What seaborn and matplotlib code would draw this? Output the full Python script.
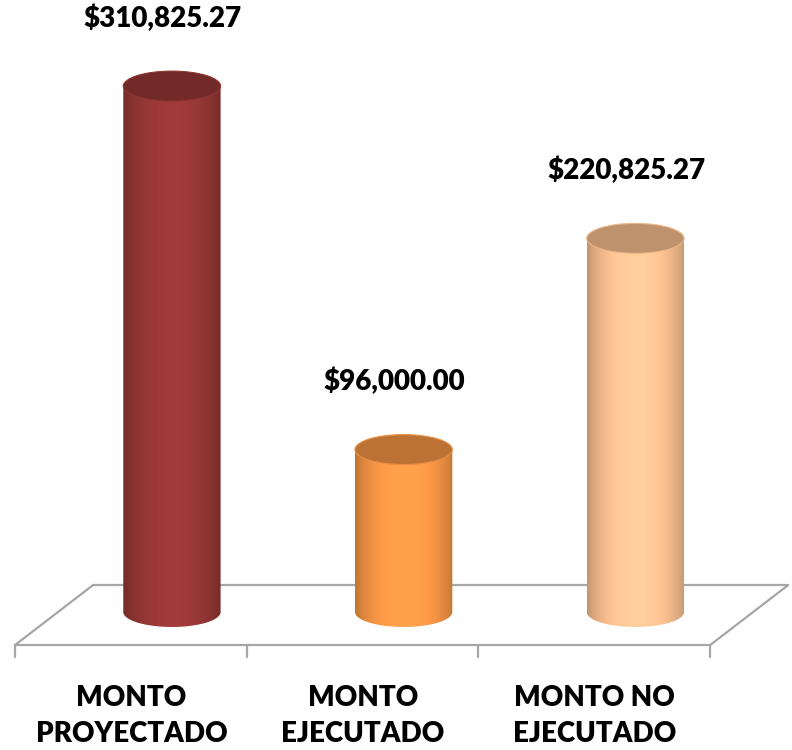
import numpy as np
import matplotlib
matplotlib.use("Agg")
import matplotlib.pyplot as plt
import seaborn as sns
from matplotlib.patches import Ellipse, PathPatch
from matplotlib.path import Path
from matplotlib.colors import to_rgb

# ------------------------------
# data
# ------------------------------
categories = ["MONTO\nPROYECTADO", "MONTO\nEJECUTADO", "MONTO NO\nEJECUTADO"]
values = [310825.27, 96000.00, 220825.27]
bar_colors = ["#953735", "#F79646", "#FAC090"]

# ------------------------------
# layout (pseudo 3D floor)
# ------------------------------
X_LIM = (-0.742, 2.676)
Y_LIM = (-81560, 361700)
DEPTH = 0.177          # bars sit behind the front edge of the floor
FLOOR_FRONT = -19500
FLOOR_BACK = 15960
FLOOR_SHIFT = 0.337
ELL_H = 17700          # height of cylinder caps in data units
GRID = "#A6A6A6"

sns.set_theme(style="white")
plt.rcParams["font.family"] = ["Lato", "DejaVu Sans"]

fig = plt.figure(figsize=(7.92, 7.5), dpi=100)
ax = fig.add_axes([0, 0, 1, 1])

sns.barplot(x=categories, y=values, hue=categories, palette=bar_colors,
            legend=False, width=0.42, saturation=1, ax=ax)

# floor
xl, xr = -0.5 - DEPTH, len(categories) - 0.5 - DEPTH
ax.plot([xl, xl + FLOOR_SHIFT, xr + FLOOR_SHIFT, xr],
        [FLOOR_FRONT, FLOOR_BACK, FLOOR_BACK, FLOOR_FRONT],
        color=GRID, lw=1.6, zorder=1, solid_capstyle="round")
ax.plot([xl, xr], [FLOOR_FRONT, FLOOR_FRONT], color=GRID, lw=1.6, zorder=1)
for k in range(len(categories) + 1):
    xt = k - 0.5 - DEPTH
    ax.plot([xt, xt], [FLOOR_FRONT, FLOOR_FRONT - 7000], color=GRID, lw=1.6, zorder=1)


def shade(rgb, n=256):
    t = np.linspace(0, 1, n)
    s = np.clip(np.sin(np.pi * np.clip(t * 0.95 + 0.02, 0, 1)), 0, 1) ** 0.55
    f = 0.68 + 0.40 * s
    img = np.clip(np.outer(f, rgb), 0, 1)
    return img[np.newaxis, :, :]


# turn flat bars into cylinders
bars = [c.patches[0] for c in ax.containers]
for bar, col in zip(bars, bar_colors):
    rgb = np.array(to_rgb(col))
    x0, w, h = bar.get_x(), bar.get_width(), bar.get_height()
    cx = x0 + w / 2
    bar.set_visible(False)

    th = np.linspace(np.pi, 2 * np.pi, 60)
    arc = np.column_stack([cx + w / 2 * np.cos(th), ELL_H / 2 * np.sin(th)])
    verts = np.vstack([[x0, h], [x0, 0], arc, [x0 + w, h], [x0, h]])
    codes = [Path.MOVETO] + [Path.LINETO] * (len(verts) - 2) + [Path.CLOSEPOLY]
    body = PathPatch(Path(verts, codes), facecolor="none", edgecolor="none",
                     transform=ax.transData)
    ax.add_patch(body)
    im = ax.imshow(shade(rgb), extent=[x0, x0 + w, -ELL_H / 2, h],
                   aspect="auto", zorder=3, interpolation="bilinear")
    im.set_clip_path(body)

    ax.add_patch(Ellipse((cx, h), w, ELL_H, facecolor=rgb * 0.76,
                         edgecolor=np.clip(rgb * 0.95, 0, 1), lw=0.8, zorder=4))

    ax.text(cx - 0.04, h + 40000, f"${h:,.2f}", ha="center", va="center",
            fontsize=20, fontweight="heavy", color="black", zorder=5)

for i, lab in enumerate(categories):
    ax.text(i - 0.175, -61500, lab, ha="center", va="center", fontsize=20,
            fontweight="heavy", color="black", linespacing=1.45)

ax.set_xlim(*X_LIM)
ax.set_ylim(*Y_LIM)
ax.axis("off")

fig.savefig("out.png", dpi=100)
